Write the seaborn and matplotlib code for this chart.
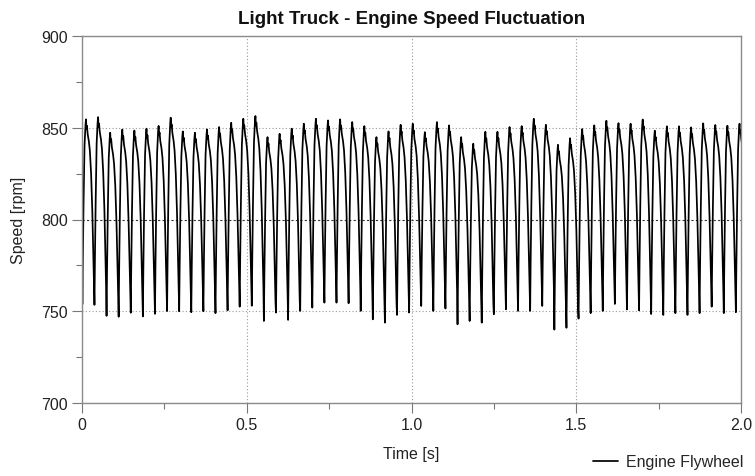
import matplotlib
matplotlib.use("Agg")
import matplotlib.pyplot as plt
import numpy as np
import pandas as pd
import seaborn as sns
from matplotlib.ticker import MultipleLocator

# ---------------- data ----------------
TITLE = "Light Truck - Engine Speed Fluctuation"
X_LABEL = "Time [s]"
Y_LABEL = "Speed [rpm]"
SERIES_NAME = "Engine Flywheel"

X_TICKS = [0, 0.5, 1.0, 1.5, 2.0]
X_TICK_LABELS = ["0", "0.5", "1.0", "1.5", "2.0"]
Y_TICKS = [700, 750, 800, 850, 900]

START_SPEED = 785.0          # speed at t = 0 s
FIRST_PEAK_TIME = 0.0121     # s
CYCLE_PERIOD = 0.03673       # s (firing period)

# maximum speed of each firing cycle [rpm]
PEAKS = [854.6, 855.8, 847.3, 849.0, 848.5, 849.5, 851.0, 855.5, 848.0,
         847.3, 849.1, 850.4, 852.7, 854.9, 856.4, 844.9, 846.7, 849.5,
         852.2, 854.9, 854.0, 854.6, 853.1, 850.9, 844.9, 848.0, 851.6,
         852.2, 847.6, 853.1, 851.3, 844.9, 841.3, 847.8, 847.8, 850.4,
         850.9, 854.9, 851.6, 840.7, 844.3, 849.3, 851.3, 853.8, 852.5,
         852.2, 854.5, 848.4, 850.8, 850.8, 850.2, 852.4, 851.5, 851.1, 852.2]

# minimum speed just before each peak [rpm]
TROUGHS = [753.8, 753.5, 747.5, 747.0, 749.2, 747.2, 748.6, 750.1, 750.0,
           749.5, 750.0, 749.0, 750.5, 752.5, 753.0, 744.7, 749.3, 745.3,
           750.2, 752.0, 754.7, 754.7, 754.4, 750.2, 745.6, 743.8, 748.0,
           749.3, 752.9, 750.2, 751.5, 742.9, 744.7, 743.8, 748.4, 751.1,
           750.2, 750.2, 752.9, 740.0, 741.0, 746.0, 749.0, 750.2, 754.0,
           751.0, 750.5, 748.5, 748.0, 749.0, 748.0, 749.0, 752.5, 749.0, 749.5]

# shape of one firing cycle: phase after the trough (in periods) and
# level between trough (0) and peak (1)
SHAPE_PHASE = [0.00, 0.04, 0.10, 0.18, 0.26, 0.30, 0.34, 0.38, 0.44,
               0.54, 0.62, 0.72, 0.82, 0.90, 0.96]
SHAPE_LEVEL = [0.00, 0.25, 0.55, 0.86, 0.97, 1.00, 0.95, 0.965, 0.92,
               0.88, 0.83, 0.71, 0.51, 0.29, 0.10]
PEAK_PHASE = 0.30

# ---------------- build the series ----------------
times = [0.0]
speeds = [START_SPEED]
for k, (pk, tr) in enumerate(zip(PEAKS, TROUGHS)):
    t_trough = FIRST_PEAK_TIME + k * CYCLE_PERIOD - PEAK_PHASE * CYCLE_PERIOD
    for ph, lv in zip(SHAPE_PHASE, SHAPE_LEVEL):
        t = t_trough + ph * CYCLE_PERIOD
        if t <= 0:
            continue
        times.append(t)
        speeds.append(tr + lv * (pk - tr))

df = pd.DataFrame({"Time": times, "Speed": speeds, "Series": SERIES_NAME})

# ---------------- plotting ----------------
sns.set_style("ticks")
FONT = ["Liberation Sans Narrow", "Liberation Sans", "DejaVu Sans"]
plt.rcParams["font.family"] = FONT

fig = plt.figure(figsize=(7.55, 4.77), dpi=100)
ax = fig.add_axes([82 / 755, 1 - 404 / 477, (741 - 82) / 755, (404 - 37) / 477])

sns.lineplot(data=df, x="Time", y="Speed", hue="Series", palette=["black"],
             estimator=None, sort=False, linewidth=1.25, ax=ax, legend=True)

ax.set_xlim(0, 2.0)
ax.set_ylim(700, 900)
ax.set_xticks(X_TICKS)
ax.set_xticklabels(X_TICK_LABELS)
ax.set_yticks(Y_TICKS)
ax.xaxis.set_minor_locator(MultipleLocator(0.25))
ax.yaxis.set_minor_locator(MultipleLocator(25))

ax.tick_params(axis="both", which="major", direction="out", length=7,
               width=0.8, color="#777777", labelsize=11.5, labelcolor="#222222", pad=3)
ax.tick_params(axis="both", which="minor", direction="out", length=4,
               width=0.8, color="#777777")

for s in ax.spines.values():
    s.set_visible(True)
    s.set_color("#8a8a8a")
    s.set_linewidth(1.0)

ax.grid(True, which="major", color="#9a9a9a", linestyle=(0, (1, 2)), linewidth=0.8)
for loc, gl in zip(ax.get_yticks(), ax.get_ygridlines()):
    if abs(loc - 800) < 1e-6:
        gl.set_color("#333333")
        gl.set_linestyle((0, (2, 2)))
ax.set_axisbelow(True)

ax.set_xlabel(X_LABEL, fontsize=11.5, color="#222222", labelpad=10)
ax.set_ylabel(Y_LABEL, fontsize=11.5, color="#222222", labelpad=11)
ax.set_title(TITLE, fontsize=13.5, fontweight="bold", color="#111111", pad=9)

handles, labels = ax.get_legend_handles_labels()
ax.get_legend().remove()
fig.legend(handles, labels, loc="lower right", bbox_to_anchor=(1.004, -0.016),
           frameon=False, fontsize=11.5, handlelength=1.6, handletextpad=0.5)

fig.savefig("out.png", dpi=100)
